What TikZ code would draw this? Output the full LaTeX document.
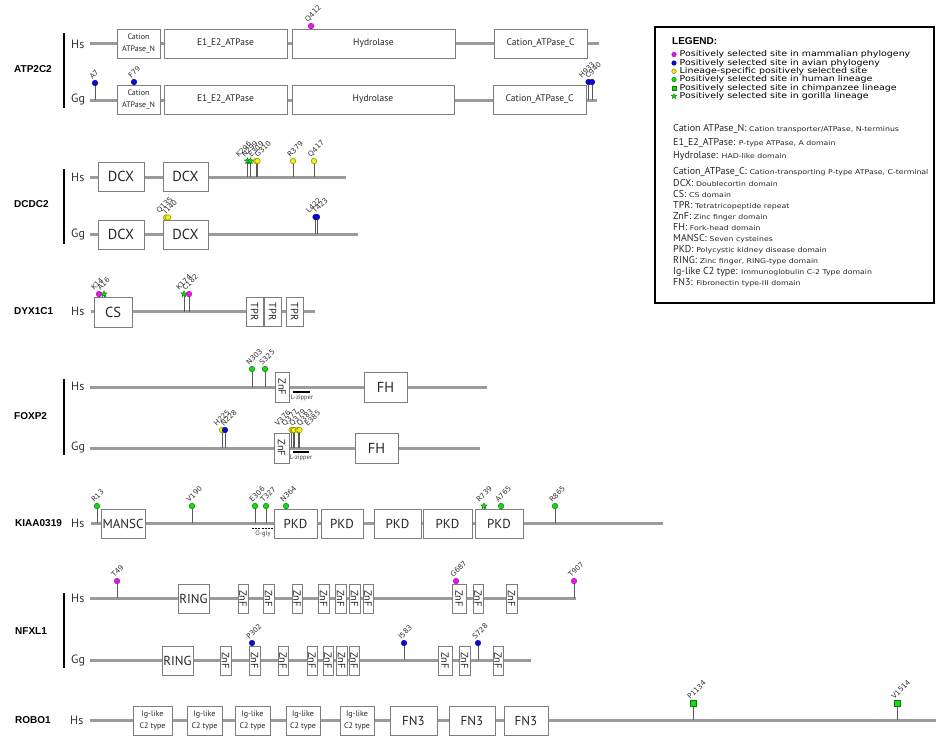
\documentclass[tikz,border=0pt]{standalone}
\usepackage{fontspec}
\setmainfont{PT Sans}
\newfontfamily\gfont{Liberation Sans}
\newfontfamily\dvfont{DejaVu Sans}
\newfontfamily\dvwide{DejaVu Sans}[FakeStretch=1.18]
\usetikzlibrary{shapes.geometric,calc}
\pgfdeclarelayer{bg}
\pgfsetlayers{bg,main}
\definecolor{pline}{RGB}{155,155,155}
\definecolor{pbord}{RGB}{125,125,125}
\definecolor{cmag}{RGB}{235,20,235}
\definecolor{cblu}{RGB}{10,10,210}
\definecolor{cyel}{RGB}{245,240,20}
\definecolor{cgrn}{RGB}{20,220,20}
\tikzset{
 prot/.style={draw=pline,line width=3pt},
 dbox/.style={draw=pbord,fill=white,line width=0.8pt,inner sep=0pt,align=center,text=black!85},
 stick/.style={draw=black!65,line width=0.9pt},
 sitem/.style={circle,inner sep=0pt,minimum size=5.5pt,line width=0.5pt},
 mag/.style={sitem,fill=cmag,draw=cmag!70!black},
 blu/.style={sitem,fill=cblu,draw=cblu!70!black},
 yel/.style={sitem,fill=cyel,draw=cyel!55!black},
 grn/.style={sitem,fill=cgrn,draw=cgrn!55!black},
 gstar/.style={star,star points=5,star point ratio=2.2,inner sep=0pt,minimum size=6.5pt,fill=cgrn,draw=cgrn!55!black,line width=0.4pt},
 gsq/.style={rectangle,inner sep=0pt,minimum size=5.5pt,fill=cgrn,draw=cgrn!55!black,line width=0.5pt},
 slabel/.style={font=\dvfont\fontsize{7.2}{8}\selectfont,rotate=45,anchor=south west,inner sep=0pt,text=black!80},
 gname/.style={font=\gfont\bfseries\fontsize{10}{12}\selectfont,anchor=west,inner sep=0pt},
 spec/.style={font=\fontsize{12}{14}\selectfont,anchor=west,inner sep=0pt,text=black!80},
 vbar/.style={draw=black,line width=1.5pt},
 fbig/.style={font=\fontsize{13}{15}\selectfont},
 fhuge/.style={font=\fontsize{14.5}{16}\selectfont},
 fmid/.style={font=\fontsize{9.5}{11}\selectfont},
 fsm/.style={font=\fontsize{8}{11.5}\selectfont},
 fznf/.style={font=\fontsize{10.5}{12}\selectfont},
 tiny/.style={font=\fontsize{6.5}{7}\selectfont,inner sep=0pt,text=black!75},
 motif/.style={draw=black,line width=1.3pt},
 legbox/.style={draw=black,line width=1.2pt,inner sep=0pt},
 legit/.style={font=\dvwide\fontsize{8}{9}\selectfont,anchor=west,inner sep=0pt},
 legk/.style={font=\fontsize{10}{11}\selectfont,anchor=base west,inner sep=0pt,text=black!85},
 legm/.style={minimum size=4.5pt},
}
\newcommand\DBx[7]{\node[dbox,minimum width={(#3)-(#2)},minimum height={(#5)-(#4)},#7] (#1) at ({((#2)+(#3))/2},{((#4)+(#5))/2}) {#6};}
\newcommand\VBx[7]{\node[dbox,rotate=-90,minimum width={(#5)-(#4)},minimum height={(#3)-(#2)},#7] (#1) at ({((#2)+(#3))/2},{((#4)+(#5))/2}) {#6};}
\newcommand\PS[7][0]{%
 \coordinate (#2-b) at (#3,#4);
 \coordinate (#2-t) at (#3,#5);
 \begin{pgfonlayer}{bg}\draw[stick] (#2-b) -- (#2-t);\end{pgfonlayer}
 \node[#6] (#2) at (#2-t) {};
 \node[slabel] (#2-l) at ($(#2-t)+({-2.5+(#1)},-3)$) {#7};}
\newcommand\BB[4]{\begin{pgfonlayer}{bg}\coordinate (#1-s) at (#2,#4);\coordinate (#1-e) at (#3,#4);\draw[prot] (#1-s) -- (#1-e);\end{pgfonlayer}}
\newcommand\DescT[1]{{\dvwide\fontsize{6.6}{7}\selectfont #1}}
\begin{document}
\begin{tikzpicture}[x=1pt,y=-1pt]
\useasboundingbox (0,0) rectangle (936,736);
% ===== ATP2C2 =====
\node[gname] (gATP) at (14,69) {ATP2C2};
\coordinate (barA1) at (64,33); \coordinate (barA2) at (64,108);
\draw[vbar] (barA1) -- (barA2);
\node[spec] (atpHs) at (71,44) {Hs};
\node[spec] (atpGg) at (71,99) {Gg};
\BB{atpHl}{90}{599}{43.5}
\DBx{aHn}{117}{160}{29}{58}{Cation\\ATPase\_N}{fsm}
\DBx{aHe}{164}{287}{29}{58}{E1\_E2\_ATPase}{fmid}
\DBx{aHh}{292}{455}{29}{58}{Hydrolase}{fmid}
\DBx{aHc}{494}{587}{29}{58}{Cation\_ATPase\_C}{fmid}
\PS{q412}{311}{43.5}{26}{mag}{Q412}
\BB{atpGl}{90}{597}{100}
\DBx{aGn}{117}{160}{85}{114}{Cation\\ATPase\_N}{fsm}
\DBx{aGe}{164}{287}{85}{114}{E1\_E2\_ATPase}{fmid}
\DBx{aGh}{292}{454}{85}{114}{Hydrolase}{fmid}
\DBx{aGc}{493}{586}{85}{114}{Cation\_ATPase\_C}{fmid}
\PS{a7}{95}{100}{83}{blu}{A7}
\PS{f79}{134}{100}{82}{blu}{F79}
\PS[-4]{h933}{588.5}{100}{82}{blu}{H933}
\PS[-1]{c940}{592}{100}{82}{blu}{C940}
% ===== DCDC2 =====
\node[gname] (gDC) at (14,204) {DCDC2};
\coordinate (barD1) at (64,169); \coordinate (barD2) at (64,244);
\draw[vbar] (barD1) -- (barD2);
\node[spec] (dcHs) at (71,177) {Hs};
\node[spec] (dcGg) at (71,234) {Gg};
\BB{dcHl}{90}{346}{177}
\DBx{dH1}{98}{144}{162}{191}{DCX}{fhuge}
\DBx{dH2}{163}{208}{162}{191}{DCX}{fhuge}
\PS[-6]{k296}{247.5}{177}{161}{gstar}{K296}
\PS[-3]{n299}{250.5}{177}{161}{gstar}{N299}
\PS[-2]{e309}{256}{177}{161}{yel}{E309}
\PS[3]{g310}{257.5}{177}{161}{yel}{G310}
\PS{r379}{293}{177}{161}{yel}{R379}
\PS{q417}{314}{177}{161}{yel}{Q417}
\BB{dcGl}{90}{358}{234}
\DBx{dG1}{98}{144}{220}{249}{DCX}{fhuge}
\DBx{dG2}{163}{208}{220}{249}{DCX}{fhuge}
\PS[-3.5]{q135}{166}{234}{217.5}{yel}{Q135}
\PS[1]{i140}{168}{234}{217.5}{yel}{I140}
\PS[-4]{l422}{315.5}{234}{217}{blu}{L422}
\PS[1]{t423}{317}{234}{217}{blu}{T423}
% ===== DYX1C1 =====
\node[gname] (gDY) at (14,311) {DYX1C1};
\node[spec] (dyHs) at (71,311) {Hs};
\BB{dyHl}{91}{315}{311.5}
\DBx{dyCS}{94}{132}{297}{327}{CS}{fhuge}
\VBx{dyT1}{246}{263}{297}{326}{TPR}{fznf}
\VBx{dyT2}{264}{281}{297}{326}{TPR}{fznf}
\VBx{dyT3}{286}{303}{297}{326}{TPR}{fznf}
\PS[-2.5]{k14}{99}{311.5}{294}{mag}{K14}
\PS[-1]{a16}{104}{311.5}{294}{gstar}{A16}
\PS[-2.5]{k174}{184}{311.5}{294}{gstar}{K174}
\PS[-1]{c182}{189}{311.5}{294}{mag}{C182}
% ===== FOXP2 =====
\node[gname] (gFO) at (14,416) {FOXP2};
\coordinate (barF1) at (64,379); \coordinate (barF2) at (64,455);
\draw[vbar] (barF1) -- (barF2);
\node[spec] (foHs) at (71,386) {Hs};
\node[spec] (foGg) at (71,447) {Gg};
\BB{foHl}{90}{487}{387}
\PS{n303}{252}{387}{369}{grn}{N303}
\PS{s325}{265}{387}{369}{grn}{S325}
\VBx{fHz}{275}{289}{372}{402}{ZnF}{fznf}
\coordinate (lzH1) at (293,392); \coordinate (lzH2) at (310,392);
\draw[motif] (lzH1) -- (lzH2);
\node[tiny] (lzHt) at (302,398) {L-zipper};
\DBx{fHf}{364}{407}{372}{402}{FH}{fhuge}
\BB{foGl}{90}{480}{448}
\PS[-2.5]{h225}{222}{448}{430}{yel}{H225}
\PS[1.5]{n228}{225}{448}{430}{blu}{N228}
\VBx{fGz}{274}{289}{433}{463}{ZnF}{fznf}
\coordinate (lzG1) at (293,452); \coordinate (lzG2) at (309,452);
\draw[motif] (lzG1) -- (lzG2);
\node[tiny] (lzGt) at (301,458) {L-zipper};
\PS[-11]{v376}{291.5}{448}{430}{yel}{V376}
\PS[-5]{q377}{293}{448}{430}{yel}{Q377}
\PS[1.5]{q379}{294}{448}{430}{yel}{Q379}
\PS[5]{q383}{298}{448}{430}{yel}{Q383}
\PS[11]{e385}{299.5}{448}{430}{yel}{E385}
\DBx{fGf}{355}{398}{433}{463}{FH}{fhuge}
% ===== KIAA0319 =====
\node[gname] (gKI) at (15,523) {KIAA0319};
\node[spec] (kiHs) at (71,523) {Hs};
\BB{kiHl}{91}{663}{523}
\DBx{kM}{101}{145}{509}{538}{MANSC}{fbig}
\DBx{kP1}{274}{317}{509}{538}{PKD}{fbig}
\DBx{kP2}{321}{363}{509}{538}{PKD}{fbig}
\DBx{kP3}{374}{421}{509}{538}{PKD}{fbig}
\DBx{kP4}{423}{472}{509}{538}{PKD}{fbig}
\DBx{kP5}{475}{523}{509}{538}{PKD}{fbig}
\PS{r13}{97}{523}{506}{grn}{R13}
\PS{v190}{192}{523}{506}{grn}{V190}
\PS{e306}{255}{523}{506}{grn}{E306}
\PS{t327}{266}{523}{506}{grn}{T327}
\PS{n364}{286}{523}{506}{grn}{N364}
\PS[-2]{r739}{484}{523}{506}{gstar}{R739}
\PS{a765}{501}{523}{506}{grn}{A765}
\PS{r865}{555}{523}{506}{grn}{R865}
\coordinate (og1) at (252,528); \coordinate (og2) at (273,528);
\draw[motif,line width=1pt,dash pattern=on 2pt off 1.2pt] (og1) -- (og2);
\node[tiny] (ogt) at (263,534) {O-gly};
% ===== NFXL1 =====
\node[gname] (gNF) at (15,631) {NFXL1};
\coordinate (barN1) at (64,593); \coordinate (barN2) at (64,668);
\draw[vbar] (barN1) -- (barN2);
\node[spec] (nfHs) at (71,598) {Hs};
\node[spec] (nfGg) at (71,660) {Gg};
\BB{nfHl}{90}{576}{598}
\DBx{nHr}{178}{209}{584}{613}{RING}{fbig}
\VBx{nHz1}{238}{248}{584}{613}{ZnF}{fznf}
\VBx{nHz2}{263}{274}{584}{613}{ZnF}{fznf}
\VBx{nHz3}{292}{302}{584}{613}{ZnF}{fznf}
\VBx{nHz4}{318}{329}{584}{613}{ZnF}{fznf}
\VBx{nHz5}{335}{346}{584}{613}{ZnF}{fznf}
\VBx{nHz6}{349}{360}{584}{613}{ZnF}{fznf}
\VBx{nHz7}{363}{373}{584}{613}{ZnF}{fznf}
\VBx{nHz8}{452}{466}{584}{613}{ZnF}{fznf}
\VBx{nHz9}{473}{483}{584}{613}{ZnF}{fznf}
\VBx{nHz10}{506}{517}{584}{613}{ZnF}{fznf}
\PS{t49}{117}{598}{581}{mag}{T49}
\PS{g687}{456}{598}{581}{mag}{G687}
\PS{t907}{574}{598}{581}{mag}{T907}
\BB{nfGl}{90}{531}{660}
\DBx{nGr}{162}{193}{646}{675}{RING}{fbig}
\VBx{nGz1}{220}{231}{646}{675}{ZnF}{fznf}
\VBx{nGz2}{249}{260}{646}{675}{ZnF}{fznf}
\VBx{nGz3}{278}{288}{646}{675}{ZnF}{fznf}
\VBx{nGz4}{307}{317}{646}{675}{ZnF}{fznf}
\VBx{nGz5}{323}{333}{646}{675}{ZnF}{fznf}
\VBx{nGz6}{336}{347}{646}{675}{ZnF}{fznf}
\VBx{nGz7}{349}{359}{646}{675}{ZnF}{fznf}
\VBx{nGz8}{438}{452}{646}{675}{ZnF}{fznf}
\VBx{nGz9}{459}{470}{646}{675}{ZnF}{fznf}
\VBx{nGz10}{493}{503}{646}{675}{ZnF}{fznf}
\PS{p302}{252}{660}{643}{blu}{P302}
\PS{i583}{404}{660}{643}{blu}{I583}
\PS{s728}{478}{660}{643}{blu}{S728}
% ===== ROBO1 =====
\node[gname] (gRO) at (15,720) {ROBO1};
\node[spec] (roHs) at (70,720) {Hs};
\BB{roHl}{90}{936}{720}
\DBx{rI1}{133}{172}{706}{735}{Ig-like\\C2 type}{fsm}
\DBx{rI2}{187}{222}{706}{735}{Ig-like\\C2 type}{fsm}
\DBx{rI3}{235}{270}{706}{735}{Ig-like\\C2 type}{fsm}
\DBx{rI4}{286}{320}{706}{735}{Ig-like\\C2 type}{fsm}
\DBx{rI5}{340}{374}{706}{735}{Ig-like\\C2 type}{fsm}
\DBx{rF1}{390}{437}{706}{735}{FN3}{fbig}
\DBx{rF2}{449}{495}{706}{735}{FN3}{fbig}
\DBx{rF3}{504}{548}{706}{735}{FN3}{fbig}
\PS{p1134}{693}{720}{703}{gsq}{P1134}
\PS{v1514}{897}{720}{703}{gsq}{V1514}
% ===== Legend =====
\node[legbox,minimum width=279,minimum height=276] (leg) at (794.5,165) {};
\node[font=\gfont\bfseries\fontsize{10}{12}\selectfont,anchor=west,inner sep=0pt] (legT) at (672,41) {LEGEND:};
\node[mag,legm] (lm1) at (674,54.5) {}; \node[legit] (lt1) at (679.5,54.5) {Positively selected site in mammalian phylogeny};
\node[blu,legm] (lm2) at (674,63) {}; \node[legit] (lt2) at (679.5,63) {Positively selected site in avian phylogeny};
\node[yel,legm] (lm3) at (674,71.3) {}; \node[legit] (lt3) at (679.5,71.3) {Lineage-specific positively selected site};
\node[grn,legm] (lm4) at (674,79.6) {}; \node[legit] (lt4) at (679.5,79.6) {Positively selected site in human lineage};
\node[gsq,legm] (lm5) at (674,88) {}; \node[legit] (lt5) at (679.5,88) {Positively selected site in chimpanzee lineage};
\node[gstar,minimum size=5.5pt] (lm6) at (674,96.3) {}; \node[legit] (lt6) at (679.5,96.3) {Positively selected site in gorilla lineage};
\node[legk] (lk1) at (673,131) {Cation ATPase\_N: \DescT{Cation transporter/ATPase, N-terminus}};
\node[legk] (lk2) at (673,145) {E1\_E2\_ATPase: \DescT{P-type ATPase, A domain}};
\node[legk] (lk3) at (673,158.5) {Hydrolase: \DescT{HAD-like domain}};
\node[legk] (lk4) at (673,174) {Cation\_ATPase\_C: \DescT{Cation-transporting P-type ATPase, C-terminal}};
\node[legk] (lk5) at (673,186) {DCX: \DescT{Doublecortin domain}};
\node[legk] (lk6) at (673,197) {CS: \DescT{CS domain}};
\node[legk] (lk7) at (673,208) {TPR: \DescT{Tetratricopeptide repeat}};
\node[legk] (lk8) at (673,219) {ZnF: \DescT{Zinc finger domain}};
\node[legk] (lk9) at (673,230) {FH: \DescT{Fork-head domain}};
\node[legk] (lk10) at (673,241) {MANSC: \DescT{Seven cysteines}};
\node[legk] (lk11) at (673,252) {PKD: \DescT{Polycystic kidney disease domain}};
\node[legk] (lk12) at (673,263) {RING: \DescT{Zinc finger, RING-type domain}};
\node[legk] (lk13) at (673,274) {Ig-like C2 type: \DescT{Immunoglobulin C-2 Type domain}};
\node[legk] (lk14) at (673,285) {FN3: \DescT{Fibronectin type-III domain}};
\end{tikzpicture}
\end{document}
